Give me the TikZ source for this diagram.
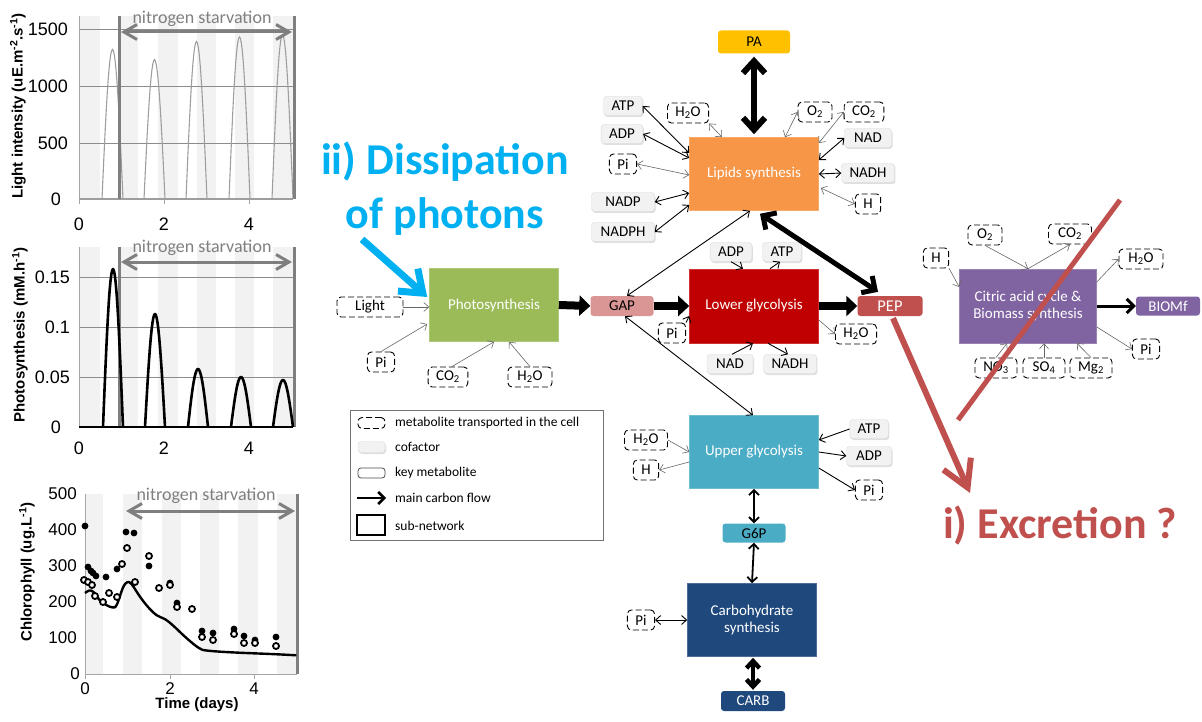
\documentclass[tikz,border=0pt]{standalone}
\usepackage{fontspec}
\setmainfont{Carlito}
\newfontfamily\plotfont{Liberation Sans}
\usetikzlibrary{arrows.meta,calc,shadows}
\definecolor{lipidor}{HTML}{F79646}
\definecolor{photogr}{HTML}{9BBB59}
\definecolor{lowred}{HTML}{C00000}
\definecolor{gappink}{HTML}{D99694}
\definecolor{pepred}{HTML}{C0504D}
\definecolor{upcyan}{HTML}{4BACC6}
\definecolor{carbblue}{HTML}{1F497D}
\definecolor{citpurple}{HTML}{8064A2}
\definecolor{pagold}{HTML}{FFC000}
\definecolor{dissblue}{HTML}{00B0F0}
\definecolor{cofgray}{HTML}{F2F2F2}
\definecolor{nightgray}{HTML}{F2F2F2}
\definecolor{ngray}{HTML}{7F7F7F}
\newcommand{\netfont}{\fontsize{15}{17}\selectfont}
\newcommand{\legfont}{\fontsize{13.5}{15}\selectfont}
\newcommand{\tickfont}{\plotfont\fontsize{18}{20}\selectfont}
\newcommand{\axtitle}{\plotfont\bfseries\fontsize{15}{17}\selectfont}
\newcommand{\callout}{\bfseries\fontsize{44}{54}\selectfont}

\begin{document}
\begin{tikzpicture}[x=1pt,y=-1pt,
  >={Straight Barb[length=5pt,width=9pt]},
  subnet/.style={draw=#1!80!white,fill=#1,line width=.6pt,text=white,align=center,
                 minimum width=129pt,minimum height=73pt,font=\netfont},
  keym/.style={fill=#1,rounded corners=3pt,minimum width=63pt,minimum height=20pt,
               inner sep=1pt,font=\netfont},
  cof/.style={fill=cofgray,draw=black!15,rounded corners=3pt,minimum width=38pt,
              minimum height=19pt,inner xsep=8pt,inner ysep=1pt,font=\netfont,
              drop shadow={shadow xshift=1pt,shadow yshift=-1.5pt,opacity=.25}},
  met/.style={draw,fill=white,dash pattern=on 6pt off 3pt,line width=.9pt,
              rounded corners=4pt,minimum width=22pt,minimum height=20pt,
              inner xsep=8pt,inner ysep=1pt,font=\netfont},
  ln/.style={black!60,line width=.6pt},
  lk/.style={black,line width=.9pt},
  flow/.style={line width=8pt,-{Triangle[length=11pt,width=20pt]}},
  paarr/.style={line width=6pt,{Straight Barb[length=12pt,width=22pt]}-{Straight Barb[length=12pt,width=22pt]}},
  peparr/.style={line width=5pt,{Straight Barb[length=10pt,width=20pt]}-{Straight Barb[length=10pt,width=20pt]}},
  carbarr/.style={line width=4.5pt,{Straight Barb[length=7pt,width=13pt]}-{Straight Barb[length=7pt,width=13pt]}},
  midarr/.style={line width=1.8pt,{Straight Barb[length=5pt,width=10pt]}-{Straight Barb[length=5pt,width=10pt]}},
  bioarr/.style={line width=3pt,-{Straight Barb[length=7pt,width=14pt]}},
  nline/.style={ngray,line width=3pt},
  nspan/.style={ngray,line width=3pt,{Straight Barb[length=13pt,width=15pt]}-{Straight Barb[length=13pt,width=15pt]}},
  nlabel/.style={text=ngray,font=\fontsize{18}{20}\selectfont},
  axisl/.style={black!35,line width=.7pt},
  gridl/.style={black!45,line width=.6pt},
  lightc/.style={black!38,line width=1.1pt},
  photc/.style={black,line width=2.6pt,line join=round},
  ticky/.style={anchor=east,font=\tickfont,inner sep=1pt},
  tickx/.style={font=\tickfont,inner sep=1pt},
  legtxt/.style={anchor=west,font=\legfont,inner sep=0pt},
  ]
  \useasboundingbox (0,0) rectangle (1202,722);

  % light intensity
  \foreach \a/\b in {79/100,120/138,158/178,197/216,235/254,273/293}
    \fill[nightgray] (\a,16) rectangle (\b,199);
  \foreach \y in {29,86,143} \draw[gridl] (79,\y) -- (293,\y);
  \draw[axisl] (79,16) -- (79,199) -- (293,199);
  \foreach \x in {79,164,249} \draw[axisl] (\x,199) -- (\x,204);
  \draw[lightc] (79,199) -- (293,199);
  \foreach \s/\h in {102/1320,144/1230,186/1390,229/1430,272/1450}
    \draw[lightc] plot[domain=0:21,samples=25] ({\s+\x},{199-0.1133*\h*sin(\x*180/21)});
  \draw[nline] (119,16) -- (119,199);
  \draw[nline] (294,16) -- (294,199);
  \draw[nspan] (121,32) -- (292,32);
  \node[nlabel] (ns1) at (202,19) {nitrogen starvation};
  \foreach \v/\y in {1500/29,1000/86,500/143} \node[ticky] (ly\v) at (69,\y) {\v};
  \node[ticky] (ly0) at (62,199) {0};
  \foreach \v/\x in {0/79,2/164,4/249} \node[tickx] (lx\v) at (\x,224) {\v};
  \node[rotate=90,font=\axtitle] (lt) at (18,106) {Light intensity (uE.m\textsuperscript{-2}.s\textsuperscript{-1})};

  % photosynthesis
  \foreach \a/\b in {79/100,120/138,158/178,197/216,235/254,273/293}
    \fill[nightgray] (\a,247) rectangle (\b,427);
  \foreach \y in {277,327,377} \draw[gridl] (79,\y) -- (293,\y);
  \draw[axisl] (79,247) -- (79,427);
  \draw[nline] (119,247) -- (119,427);
  \draw[nline] (294,247) -- (294,427);
  \draw[photc] (79,427) -- (293,427);
  \foreach \s/\h in {103/0.158,145/0.113,188/0.058,231/0.050,273/0.047}
    \draw[photc] plot[domain=0:20,samples=25] ({\s+\x},{427-1000*\h*sin(\x*9)});
  \draw[nspan] (121,262) -- (292,262);
  \node[nlabel] (ns2) at (202,248) {nitrogen starvation};
  \foreach \v/\y/\n in {0.15/277/a,0.1/327/b,0.05/377/c} \node[ticky] (py\n) at (71,\y) {\v};
  \node[ticky] (py0) at (62,427) {0};
  \foreach \v/\x in {0/79,2/164,4/249} \node[tickx] (px\v) at (\x,448) {\v};
  \node[rotate=90,font=\axtitle] (pt) at (20,335) {Photosynthesis (mM.h\textsuperscript{-1})};

  % chlorophyll
  \foreach \a/\b in {85/103,123/142,162/181,200/219,238/258,277/297}
    \fill[nightgray] (\a,494) rectangle (\b,674);
  \draw[axisl] (85,494) -- (85,674) -- (297,674);
  \foreach \x in {85,170,254} \draw[axisl] (\x,674) -- (\x,679);
  \draw[nline] (297,494) -- (297,674);
  \draw[nspan] (126,511) -- (295,511);
  \node[nlabel] (ns3) at (206,496) {nitrogen starvation};
  \draw[black,line width=2.4pt,line join=round] plot[smooth,tension=.6] coordinates {
    (85,593) (89.2,590.5) (93.5,592) (99.8,600.2) (106.1,604.9) (112.5,607.4)
    (116.7,604.9) (123,587.6) (127.3,582.2) (131.5,584) (139.9,596.6) (148.4,607.4)
    (156.8,615.3) (165.3,619.3) (173.7,626.1) (186.4,638) (199.1,648.1) (207.5,650.6)
    (232.9,652.4) (275.1,654.2) (296.3,655.3)};
  \foreach \x/\y in {85/526,88/567,91/571,93/573,96/576,106/577,117/569,126/532,134/533,
                     149/566,170/583,177/603,202/631,213/633,234/629,244/636,255/640,276/637}
    \fill[black] (\x,\y) circle (3.4pt);
  \foreach \x/\y in {84/580,88/582,92/585,95/596,103/602,109/593,117/597,122/564,127/548,
                     135/582,149/556,159/588,170/585,177/607,192/609,202/637,213/640,
                     234/634,244/643,255/643,276/646}
    \draw[black,line width=1.8pt,fill=white] (\x,\y) circle (3pt);
  \foreach \v/\y in {500/494,400/530,300/566,200/602,100/638} \node[ticky,font=\plotfont\fontsize{17}{19}\selectfont] (cy\v) at (78,\y) {\v};
  \node[ticky,font=\plotfont\fontsize{17}{19}\selectfont] (cy0) at (81,674) {0};
  \foreach \v/\x in {0/85,2/170,4/254} \node[tickx,font=\plotfont\fontsize{17}{19}\selectfont] (cx\v) at (\x,689) {\v};
  \node[font=\axtitle] (ctime) at (197,705) {Time (days)};
  \node[rotate=90,font=\axtitle] (ct) at (27,572) {Chlorophyll (ug.L\textsuperscript{-1})};

  % network
  \node[keym=pagold,minimum width=72pt,minimum height=23pt] (pa) at (754,42) {PA};
  \node[subnet=lipidor] (lip) at (754,174) {Lipids synthesis};
  \node[subnet=photogr] (photo) at (494,305) {Photosynthesis};
  \node[keym=gappink] (gap) at (622,306) {GAP};
  \node[subnet=lowred,minimum height=74pt] (low) at (754,306) {Lower glycolysis};
  \node[keym=pepred,text=white,minimum width=65pt,font=\fontsize{16.5}{18}\selectfont] (pep) at (890,306) {PEP};
  \node[subnet=upcyan] (up) at (754,452) {Upper glycolysis};
  \node[keym=upcyan,minimum height=19pt] (g6p) at (754,533) {G6P};
  \node[subnet=carbblue] (carb) at (752,620) {Carbohydrate\\synthesis};
  \node[keym=carbblue,text=white,minimum width=64pt] (carbm) at (753,701) {CARB};
  \node[subnet=citpurple,minimum width=137pt,minimum height=74pt] (cit) at (1028,306) {Citric acid cycle \&\\Biomass synthesis};
  \node[keym=citpurple,text=white,minimum width=64pt,minimum height=19pt] (biom) at (1168,306) {BIOMf};

  \node[cof] (latp) at (623,106) {ATP};
  \node[cof] (ladp) at (622,134) {ADP};
  \node[met] (lpi) at (623,164) {Pi};
  \node[cof,minimum width=63pt] (lnadp) at (623,202) {NADP};
  \node[cof,minimum width=63pt] (lnadph) at (623,232) {NADPH};
  \node[met] (lh2o) at (688,113) {H\textsubscript{2}O};
  \node[met,minimum width=34pt] (lo2) at (815,112) {O\textsubscript{2}};
  \node[met] (lco2) at (864,112) {CO\textsubscript{2}};
  \node[cof,minimum width=47pt] (lnad) at (868,138) {NAD};
  \node[cof] (lnadh) at (868,173) {NADH};
  \node[met] (lh) at (868,204) {H};

  \node[met,minimum width=66pt] (light) at (370,307) {Light};
  \node[met] (ppi) at (381,362) {Pi};
  \node[met] (pco2) at (448,377) {CO\textsubscript{2}};
  \node[met,minimum width=44pt] (ph2o) at (530,377) {H\textsubscript{2}O};

  \node[cof] (gadp) at (731,252) {ADP};
  \node[cof] (gatp) at (782,252) {ATP};
  \node[met] (gpi) at (672,333) {Pi};
  \node[met] (gh2o) at (856,334) {H\textsubscript{2}O};
  \node[cof,minimum width=46pt] (gnad) at (730,364) {NAD};
  \node[cof] (gnadh) at (790,364) {NADH};

  \node[met,minimum width=43pt] (uh2o) at (646,440) {H\textsubscript{2}O};
  \node[met] (uh) at (646,470) {H};
  \node[cof] (uatp) at (869,429) {ATP};
  \node[cof,minimum width=45pt] (uadp) at (869,456) {ADP};
  \node[met] (upi) at (869,490) {Pi};

  \node[met] (cpi) at (641,620) {Pi};

  \node[met] (ch) at (936,258) {H};
  \node[met,minimum width=34pt] (co2) at (985,235) {O\textsubscript{2}};
  \node[met,minimum width=43pt] (cco2) at (1070,234) {CO\textsubscript{2}};
  \node[met,minimum width=44pt] (ch2o) at (1141,259) {H\textsubscript{2}O};
  \node[met] (cpi2) at (1146,349) {Pi};
  \node[met,minimum width=42pt] (cno3) at (996,368) {NO\textsubscript{3}};
  \node[met,minimum width=42pt] (cso4) at (1044,368) {SO\textsubscript{4}};
  \node[met,minimum width=42pt] (cmg) at (1091,368) {Mg\textsubscript{2}};

  % main carbon flow
  \draw[paarr] ($(pa.south)+(0,3)$) -- ($(lip.north)+(0,-3)$);
  \draw[flow] (photo.east) -- (gap.west);
  \draw[flow] (gap.east) -- (low.west);
  \draw[flow] (low.east) -- (pep.west);
  \draw[peparr] ($(lip.south)+(6,3)$) -- ($(pep.north)+(-12,-4)$);
  \draw[lk,<->] ($(lip.south)+(-4,0)$) -- ($(gap.north)+(5,0)$);
  \draw[lk,<->] ($(gap.south)+(3,0)$) -- ($(up.north)+(-1,0)$);
  \draw[midarr] (up.south) -- (g6p.north);
  \draw[midarr] (g6p.south) -- (carb.north);
  \draw[carbarr] ($(carb.south)+(1,1)$) -- ($(carbm.north)+(0,-1)$);
  \draw[bioarr] (cit.east) -- (biom.west);

  % lipids
  \draw[lk,<->] (latp.east) -- ($(lip.west)+(0,-21)$);
  \draw[lk,<->] (ladp.east) -- ($(lip.west)+(0,-16)$);
  \draw[ln,<->] (lpi.east) -- ($(lip.west)+(0,1)$);
  \draw[lk,<->] (lnadp.east) -- ($(lip.west)+(0,19)$);
  \draw[lk,<->] (lnadph.east) -- ($(lip.west)+(0,31)$);
  \draw[ln,<->] (lh2o.south east) -- ($(lip.north)+(-32,0)$);
  \draw[ln,<->] (lo2.west) -- ($(lip.north)+(31,0)$);
  \draw[ln,<->] (lco2.west) -- ($(lip.east)+(0,-31)$);
  \draw[lk,<->] (lnad.west) -- ($(lip.east)+(0,-14)$);
  \draw[lk,<->] (lnadh.west) -- (lip.east);
  \draw[ln,<->] (lh.west) -- ($(lip.east)+(2,14)$);

  % photosynthesis
  \draw[ln,->] (light.east) -- (light.east -| photo.west);
  \draw[ln,->] (ppi.north) -- ($(photo.west)+(-2,19)$);
  \draw[ln,->] ($(pco2.north)+(4,0)$) -- (photo.south);
  \draw[ln,->] (ph2o.north) -- ($(photo.south)+(15,0)$);

  % lower glycolysis
  \draw[lk,->] (gadp.south) -- ($(low.north)+(-11,0)$);
  \draw[lk,->] ($(low.north)+(16,0)$) -- ($(gatp.south)+(-2,0)$);
  \draw[lk,->] (gpi.north east) -- ($(low.west)+(0,10)$);
  \draw[ln,->] ($(low.east)+(0,14)$) -- (gh2o.west);
  \draw[lk,->] ($(gnad.north)+(2,0)$) -- ($(low.south)+(-1,0)$);
  \draw[lk,->] ($(low.south)+(14,0)$) -- ($(gnadh.north)+(-2,0)$);

  % upper glycolysis
  \draw[ln,->] (uh2o.east) -- (up.west);
  \draw[ln,->] ($(up.west)+(0,10)$) -- (uh.east);
  \draw[lk,->] (uatp.west) -- ($(up.east)+(0,-12)$);
  \draw[lk,->] (up.east) -- (uadp.west);
  \draw[lk,->] ($(up.east)+(0,16)$) -- (upi.west);
  \draw[lk,<->] (cpi.east) -- (carb.west);

  % citric acid cycle
  \draw[ln,->] (ch.south east) -- ($(cit.west)+(0,-19)$);
  \draw[ln,->] (co2.south) -- (cit.north);
  \draw[ln,->] (cit.north) -- (cco2.south);
  \draw[ln,->] ($(cit.east)+(0,-24)$) -- (ch2o.west);
  \draw[ln,->] ($(cit.east)+(0,21)$) -- (cpi2.west);
  \draw[ln,->] (cno3.north) -- ($(cit.south)+(-21,0)$);
  \draw[ln,->] (cso4.north) -- (cso4.north |- cit.south);
  \draw[ln,->] (cmg.north) -- ($(cit.south)+(49,0)$);

  % legend
  \node[draw=black!55,line width=.6pt,minimum width=253pt,minimum height=130pt] (legend) at (476.5,475) {};
  \node[met,minimum width=27pt,minimum height=11pt,inner sep=0pt] (lgmet) at (371.5,423) {};
  \node[cof,minimum width=27pt,minimum height=11pt,inner sep=0pt] (lgcof) at (371.5,447) {};
  \node[draw=black!70,line width=.8pt,rounded corners=3pt,minimum width=27pt,minimum height=10pt,inner sep=0pt] (lgkey) at (371.5,473) {};
  \coordinate (lga) at (357,498);
  \coordinate (lgb) at (386,498);
  \draw[line width=2.5pt,-{Straight Barb[length=6pt,width=12pt]}] (lga) -- (lgb);
  \node[draw,line width=1.2pt,minimum width=28pt,minimum height=20pt,inner sep=0pt] (lgsub) at (371,525) {};
  \node[legtxt] (lt1) at (395,423) {metabolite transported in the cell};
  \node[legtxt] (lt2) at (395,447) {cofactor};
  \node[legtxt] (lt3) at (395,473) {key metabolite};
  \node[legtxt] (lt4) at (395,498) {main carbon flow};
  \node[legtxt] (lt5) at (395,526) {sub-network};

  % hypotheses
  \node[text=dissblue,font=\callout,align=center] (diss) at (445,189) {ii) Dissipation\\of photons};
  \draw[dissblue,line width=7pt,-{Straight Barb[length=20pt,width=30pt]}] ($(diss.south)+(-83,0)$) -- ($(photo.west)+(-2,-8)$);
  \coordinate (exctip) at (970,493);
  \draw[pepred,line width=6pt,-{Straight Barb[length=26pt,width=30pt]}] ($(pep.south)+(3,2)$) -- (exctip);
  \node[text=pepred,font=\callout,anchor=base] (excr) at (1060,538) {i) Excretion ?};
  \coordinate (xa) at (1120,200);
  \coordinate (xb) at (958,420);
  \draw[pepred,line width=5pt] (xa) -- (xb);
\end{tikzpicture}
\end{document}
